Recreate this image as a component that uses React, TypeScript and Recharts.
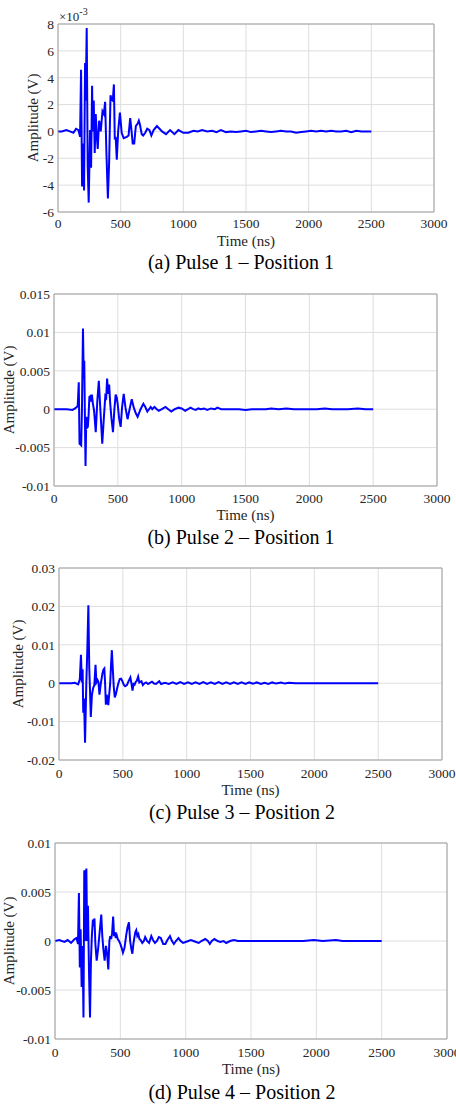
import { LineChart, Line, XAxis, YAxis, CartesianGrid, ReferenceLine, Label } from 'recharts'

const TIME_TICKS = [0, 500, 1000, 1500, 2000, 2500, 3000]

// (a) Pulse 1 - Position 1, amplitude in units of 1e-3 V
const PULSE1: [number, number][] = [
  [0, 0], [30, 0], [67, 0.1], [95, 0], [123, -0.1], [144, 0.2], [163, 0.1], [176, -0.4],
  [184, 4.6], [192, -4.1], [203, -0.9], [208, -4.4], [216, 5.1], [221, 2.3], [229, 7.7],
  [237, -2.6], [245, -5.3], [256, 0.1], [264, -2.7], [272, 3.4], [277, 0], [285, 2.3],
  [293, -1.6], [301, 1.3], [309, -0.3], [317, -1.3], [328, 0.8], [341, 0], [355, 1.5],
  [366, 1.3], [376, 2.2], [386, -1.5], [398, -5.0], [408, -2.3], [419, 2.7], [427, 2.4],
  [437, 2.3], [446, 3.5], [453, -0.6], [460, -0.4], [469, -2.1], [480, 0], [494, 1.4],
  [508, -0.1], [524, -0.5], [549, -0.4], [563, -0.3], [576, 1.0], [587, 0], [596, -0.9],
  [608, -0.9], [621, 0.4], [637, 0.6], [645, 0.8], [654, 0.5], [668, -0.2], [680, -0.3],
  [696, -0.1], [712, 0.2], [730, 0.1], [745, -0.3], [763, 0.1], [789, 0.4], [810, 0.2],
  [830, 0], [862, -0.2], [894, 0.1], [929, -0.2], [961, 0.1], [1000, -0.1], [1040, -0.1],
  [1080, 0.05], [1115, 0], [1150, 0.1], [1190, 0], [1230, 0.05], [1265, -0.05], [1300, 0.1],
  [1340, -0.05], [1380, 0], [1420, -0.05], [1460, 0], [1500, 0.05], [1540, -0.05], [1580, 0],
  [1620, 0.05], [1660, 0], [1700, -0.05], [1740, 0], [1780, 0.05], [1820, 0], [1860, 0],
  [1900, -0.1], [1940, -0.05], [1980, 0], [2020, 0.05], [2060, 0], [2100, 0.05], [2140, 0],
  [2180, 0.05], [2220, 0], [2260, 0], [2300, 0.05], [2340, -0.05], [2380, 0.05], [2420, 0],
  [2460, 0], [2500, 0],
]
const PULSE1_TICKS = [-6, -4, -2, 0, 2, 4, 6, 8]

// (b) Pulse 2 - Position 1
const PULSE2: [number, number][] = [
  [0, 0], [100, 0], [145, -0.0001], [165, 0.0001], [180, 0.0003], [186, 0.0005], [194, 0.0035],
  [200, -0.0045], [207, -0.0046], [213, -0.0047], [219, 0], [227, 0.0105], [233, 0.004],
  [237, 0.0063], [242, -0.001], [247, -0.0074], [253, -0.001], [259, -0.0024], [265, -0.0023],
  [271, -0.0008], [277, 0.0016], [284, 0.0017], [290, 0.001], [297, 0.0019], [304, 0.0008],
  [314, -0.0002], [327, -0.003], [339, 0.001], [351, 0.0037], [363, 0], [378, -0.0045],
  [391, -0.001], [402, 0.0017], [409, 0.0015], [416, 0.004], [424, 0.002], [432, 0.0032],
  [440, 0.0008], [450, -0.0012], [462, -0.003], [473, 0], [483, 0.0019], [492, 0.0015],
  [500, 0.0005], [510, -0.0012], [522, -0.0023], [533, 0.0002], [546, 0.002], [560, 0.0002],
  [576, -0.0013], [592, 0], [609, 0.0013], [625, 0.0002], [640, -0.0005], [655, -0.001],
  [678, 0], [700, 0.0007], [715, 0.0003], [731, -0.0003], [745, 0], [757, 0.0003], [770, 0],
  [787, 0.0003], [805, 0], [821, -0.0002], [845, 0], [873, 0.0003], [895, 0], [919, -0.0003],
  [945, 0], [976, 0.0002], [1000, 0.0001], [1028, -0.0002], [1050, 0], [1070, 0.0002],
  [1090, 0], [1110, -0.0001], [1130, 0.0001], [1150, 0], [1175, 0.0001], [1200, -0.0001],
  [1230, 0.0001], [1260, 0], [1280, 0.0002], [1310, 0], [1350, 0], [1400, 0], [1450, 0],
  [1500, -0.0001], [1550, 0], [1600, 0], [1660, 0], [1700, 0.0001], [1760, 0], [1820, 0.0001],
  [1880, 0], [1940, 0], [2000, 0], [2060, 0], [2120, 0.0001], [2180, 0], [2240, 0], [2300, 0],
  [2380, 0.0001], [2440, 0], [2500, 0],
]
const PULSE2_TICKS = [-0.01, -0.005, 0, 0.005, 0.01, 0.015]

// (c) Pulse 3 - Position 2
const PULSE3: [number, number][] = [
  [0, 0], [100, 0], [124, 0.0001], [150, -0.0003], [163, 0.001], [172, 0.0074], [179, 0.0002],
  [185, 0.0036], [190, -0.0077], [196, -0.004], [204, -0.0155], [214, 0], [222, 0.009],
  [230, 0.0203], [237, 0.004], [243, -0.002], [249, -0.0088], [258, -0.003], [268, -0.0012],
  [277, -0.0005], [286, 0.0048], [293, 0.0002], [302, 0.0008], [309, 0.0003], [317, -0.003],
  [328, 0], [340, 0.0025], [348, 0.0035], [355, 0.0038], [361, 0], [367, -0.0056],
  [374, -0.003], [379, -0.0045], [386, -0.0057], [393, -0.003], [401, 0], [408, 0.005],
  [414, 0.0086], [421, 0.004], [429, -0.001], [437, -0.0037], [446, -0.0028], [454, -0.0015],
  [465, 0], [476, 0.0011], [486, 0.0012], [496, 0.0006], [507, -0.0004], [518, -0.0008],
  [532, -0.0005], [546, 0.0006], [559, 0.0015], [567, 0], [576, -0.0019], [584, -0.0002],
  [592, -0.0004], [600, 0.0003], [609, 0.0006], [620, 0.0017], [629, 0.0002], [637, 0.0004],
  [646, 0.0005], [657, -0.0005], [670, 0], [682, 0.0002], [698, -0.0002], [712, 0.0001],
  [728, 0.0004], [745, -0.0001], [760, -0.0002], [785, 0.0005], [800, -0.0002], [830, 0.0001],
  [860, -0.0002], [890, 0.0002], [920, -0.0002], [950, 0.0003], [980, -0.0002], [1010, 0.0002],
  [1040, -0.0002], [1070, 0.0002], [1100, -0.0002], [1130, 0.0003], [1160, -0.0002],
  [1190, 0.0002], [1220, -0.0002], [1250, 0.0003], [1280, -0.0002], [1310, 0.0002],
  [1340, -0.0002], [1370, 0.0002], [1400, -0.0002], [1430, 0.0002], [1460, -0.0002],
  [1490, 0.0002], [1520, -0.0001], [1550, 0.0002], [1580, -0.0002], [1610, 0.0001],
  [1640, -0.0002], [1670, 0.0002], [1700, -0.0001], [1740, 0.0002], [1770, -0.0001],
  [1800, 0.0001], [1850, 0], [1900, 0], [1960, 0], [2000, 0], [2100, 0], [2200, 0], [2300, 0],
  [2400, 0], [2500, 0],
]
const PULSE3_TICKS = [-0.02, -0.01, 0, 0.01, 0.02, 0.03]

// (d) Pulse 4 - Position 2
const PULSE4: [number, number][] = [
  [0, 0], [33, 0.0001], [72, -0.0001], [97, 0.0001], [123, -0.0002], [150, 0.0002], [165, 0.0003],
  [176, -0.0003], [183, 0.0049], [190, -0.0027], [196, 0.0012], [204, -0.0047], [211, -0.0005],
  [218, -0.0078], [224, 0.0072], [230, 0.007], [235, 0], [240, 0.0074], [246, 0], [252, 0.0036],
  [260, -0.003], [268, -0.0078], [275, -0.002], [282, 0.0005], [290, 0.0022], [296, 0.0015],
  [302, 0.0023], [309, -0.0003], [319, -0.002], [330, -0.0008], [341, 0.0008], [354, 0.0027],
  [362, 0.0005], [370, -0.0008], [380, -0.002], [390, -0.0005], [398, -0.0012], [408, -0.0029],
  [416, 0], [423, 0.0005], [430, 0.0002], [437, 0.0008], [445, 0.0025], [452, 0.0005],
  [458, 0.0009], [465, 0.0003], [472, 0.0006], [480, 0.0002], [490, 0], [500, -0.0003],
  [510, -0.0007], [520, -0.0012], [532, -0.0007], [545, 0.0006], [555, 0.0014], [566, 0.0019],
  [575, 0], [584, -0.0008], [592, -0.0013], [600, -0.0003], [608, 0.0004], [615, 0.0009],
  [622, 0.0011], [630, 0.0005], [638, 0.0007], [646, 0.0002], [655, 0.0001], [668, -0.0002],
  [680, 0], [690, 0.0004], [705, 0], [720, -0.0002], [737, 0.0005], [750, 0.0001],
  [765, -0.0002], [780, 0], [795, 0.0004], [810, 0.0003], [828, -0.0003], [845, -0.0003],
  [860, 0.0001], [880, 0.0005], [895, 0], [910, -0.0003], [925, 0], [945, 0.0003], [962, 0],
  [980, -0.0002], [1000, -0.0001], [1020, 0], [1040, 0.0001], [1060, 0], [1080, -0.0001],
  [1100, -0.0002], [1120, 0], [1150, 0.0002], [1170, 0], [1185, -0.0003], [1200, 0],
  [1220, 0.0002], [1245, 0], [1265, -0.0001], [1290, 0], [1310, -0.0002], [1340, 0],
  [1370, 0.0001], [1400, 0], [1450, 0], [1500, 0], [1600, 0], [1700, 0], [1800, 0], [1900, 0],
  [1980, 0.0001], [2050, 0], [2150, 0.0001], [2200, 0], [2300, 0], [2400, 0], [2500, 0],
]
const PULSE4_TICKS = [-0.01, -0.005, 0, 0.005, 0.01]

const FONT = '"Liberation Serif", "Times New Roman", serif'
const GRID = '#dedede'
const BORDER = '#a0a0a0'
const TICK_STYLE = { fill: '#262626', fontSize: 13.5, fontFamily: FONT }
const TITLE_STYLE = { fill: '#262626', fontSize: 15, fontFamily: FONT }

interface Box { left: number; right: number; top: number; bottom: number }

interface PanelProps {
  points: [number, number][]
  yTicks: number[]
  caption: string
  box: Box
  yTitleX: number
  xTickY: number
  xTitleY: number
  captionX: number
  captionY: number
  exponent?: boolean
}

function Panel({ points, yTicks, caption, box, yTitleX, xTickY, xTitleY, captionX, captionY, exponent }: PanelProps) {
  const data = points.map(([t, v]) => ({ t, v }))
  const top = box.top - 24
  const height = box.bottom - top + 38
  const yMin = yTicks[0]
  const yMax = yTicks[yTicks.length - 1]
  const midX = (box.left + box.right) / 2
  const midY = (box.top + box.bottom) / 2 - top

  return (
    <>
      <div style={{ position: 'absolute', left: 0, top, width: 456, height }}>
        <LineChart
          width={456}
          height={height}
          data={data}
          margin={{ top: 24, right: 456 - box.right, left: 0, bottom: 4 }}
        >
          <CartesianGrid stroke={GRID} />
          <XAxis
            type="number"
            dataKey="t"
            domain={[0, 3000]}
            ticks={TIME_TICKS}
            interval={0}
            height={34}
            tickSize={0}
            tickMargin={xTickY - box.bottom - 5}
            tickLine={false}
            axisLine={{ stroke: BORDER }}
            tick={TICK_STYLE}
          >
            <Label
              content={() => (
                <text x={midX} y={xTitleY - top} textAnchor="middle" dominantBaseline="central" style={TITLE_STYLE}>
                  Time (ns)
                </text>
              )}
            />
          </XAxis>
          <YAxis
            type="number"
            domain={[yMin, yMax]}
            ticks={yTicks}
            interval={0}
            width={box.left}
            tickSize={0}
            tickMargin={4}
            tickLine={false}
            axisLine={{ stroke: BORDER }}
            tick={TICK_STYLE}
          >
            <Label
              content={() => (
                <text
                  x={yTitleX}
                  y={midY}
                  transform={`rotate(-90 ${yTitleX} ${midY})`}
                  textAnchor="middle"
                  dominantBaseline="central"
                  style={TITLE_STYLE}
                >
                  Amplitude (V)
                </text>
              )}
            />
            {exponent && (
              <Label
                content={() => (
                  <text x={box.left + 1} y={21 - top} style={{ ...TITLE_STYLE, fontSize: 13 }}>
                    ×10
                    <tspan dy={-6} fontSize={10}>-3</tspan>
                  </text>
                )}
              />
            )}
          </YAxis>
          <ReferenceLine y={yMax} stroke={BORDER} />
          <ReferenceLine x={3000} stroke={BORDER} />
          <Line
            type="linear"
            dataKey="v"
            stroke="#0000ff"
            strokeWidth={2}
            dot={false}
            activeDot={false}
            isAnimationActive={false}
          />
        </LineChart>
      </div>
      <div
        style={{
          position: 'absolute',
          left: captionX,
          top: captionY - 12,
          transform: 'translateX(-50%)',
          whiteSpace: 'nowrap',
          fontFamily: FONT,
          fontSize: 20,
          lineHeight: '24px',
          color: '#000',
        }}
      >
        {caption}
      </div>
    </>
  )
}

export default function App() {
  return (
    <div style={{ position: 'absolute', left: 0, top: 0, width: 456, height: 1106, background: '#fff', overflow: 'hidden' }}>
      <Panel
        points={PULSE1}
        yTicks={PULSE1_TICKS}
        caption="(a) Pulse 1 – Position 1"
        box={{ left: 58, right: 434, top: 24, bottom: 212 }}
        yTitleX={33}
        xTickY={223}
        xTitleY={241}
        captionX={241}
        captionY={262}
        exponent
      />
      <Panel
        points={PULSE2}
        yTicks={PULSE2_TICKS}
        caption="(b) Pulse 2 – Position 1"
        box={{ left: 54, right: 437, top: 294, bottom: 486 }}
        yTitleX={9}
        xTickY={498}
        xTitleY={515}
        captionX={241}
        captionY={537}
      />
      <Panel
        points={PULSE3}
        yTicks={PULSE3_TICKS}
        caption="(c) Pulse 3 – Position 2"
        box={{ left: 59, right: 442, top: 568, bottom: 760 }}
        yTitleX={18}
        xTickY={773}
        xTitleY={790}
        captionX={242}
        captionY={812}
      />
      <Panel
        points={PULSE4}
        yTicks={PULSE4_TICKS}
        caption="(d) Pulse 4 – Position 2"
        box={{ left: 55, right: 447, top: 843, bottom: 1039 }}
        yTitleX={9}
        xTickY={1052}
        xTitleY={1069}
        captionX={242}
        captionY={1092}
      />
    </div>
  )
}
